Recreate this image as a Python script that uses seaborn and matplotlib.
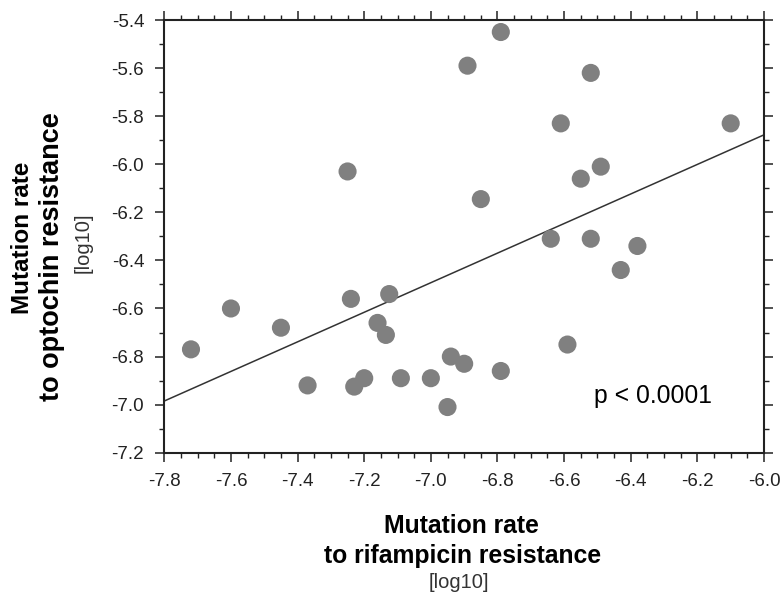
import matplotlib
matplotlib.use("Agg")
import matplotlib.pyplot as plt
from matplotlib.ticker import MultipleLocator, FormatStrFormatter
import seaborn as sns
import pandas as pd

# Data (log10 mutation rates)
rifampicin = [-7.72, -7.60, -7.45, -7.37, -7.25, -7.24, -7.125, -7.16, -7.135,
              -7.23, -7.20, -7.09, -7.00, -6.95, -6.94, -6.90, -6.89, -6.79,
              -6.52, -6.61, -6.10, -6.49, -6.55, -6.85, -6.64, -6.52, -6.38,
              -6.43, -6.59, -6.79]
optochin = [-6.77, -6.60, -6.68, -6.92, -6.03, -6.56, -6.54, -6.66, -6.71,
            -6.925, -6.89, -6.89, -6.89, -7.01, -6.80, -6.83, -5.59, -5.45,
            -5.62, -5.83, -5.83, -6.01, -6.06, -6.145, -6.31, -6.31, -6.34,
            -6.44, -6.75, -6.86]
x_ticks = [-7.8, -7.6, -7.4, -7.2, -7.0, -6.8, -6.6, -6.4, -6.2, -6.0]
y_ticks = [-7.2, -7.0, -6.8, -6.6, -6.4, -6.2, -6.0, -5.8, -5.6, -5.4]
annotation = "p < 0.0001"

df = pd.DataFrame({"rif": rifampicin, "opt": optochin})

sns.set_theme(style="ticks")
plt.rcParams["font.family"] = ["Liberation Sans", "DejaVu Sans"]
plt.rcParams["axes.unicode_minus"] = False

fig = plt.figure(figsize=(7.84, 5.99), dpi=100)
ax = fig.add_axes([0.2096, 0.2442, 0.7649, 0.7224])

ax.set_xlim(x_ticks[0], x_ticks[-1])
ax.set_ylim(y_ticks[0], y_ticks[-1])

sns.regplot(data=df, x="rif", y="opt", ax=ax, scatter=False, ci=None,
            truncate=False, line_kws=dict(color="#333333", lw=1.1))
sns.scatterplot(data=df, x="rif", y="opt", ax=ax, s=170, color="#808080",
                edgecolor="none", linewidth=0, zorder=3)

ax.set_xlim(x_ticks[0], x_ticks[-1])
ax.set_ylim(y_ticks[0], y_ticks[-1])
ax.set_xticks(x_ticks)
ax.set_yticks(y_ticks)
ax.xaxis.set_minor_locator(MultipleLocator(0.05))
ax.yaxis.set_minor_locator(MultipleLocator(0.1))
ax.xaxis.set_major_formatter(FormatStrFormatter("%.1f"))
ax.yaxis.set_major_formatter(FormatStrFormatter("%.1f"))
ax.set_xlabel("")
ax.set_ylabel("")

for sp in ax.spines.values():
    sp.set_visible(True)
    sp.set_color("#222222")
    sp.set_linewidth(1.5)

ax.tick_params(which="both", direction="out", top=True, right=True,
               labeltop=False, labelright=False, color="#222222")
ax.tick_params(which="major", length=6.5, width=1.1, labelsize=13.5,
               pad=8, labelcolor="#222222")
ax.tick_params(which="minor", length=3.5, width=1.0)

ax.text(-6.333, -6.964, annotation, ha="center", va="center", fontsize=17.8,
        color="black")

# Axis titles placed as in the reference
fig.text(461 / 784, 1 - 526 / 599, "Mutation rate", ha="center", va="center",
         fontsize=17.8, fontweight="bold", color="black")
fig.text(463 / 784, 1 - 556 / 599, "to rifampicin resistance", ha="center",
         va="center", fontsize=17.8, fontweight="bold", color="black")
fig.text(459 / 784, 1 - 583 / 599, "[log10]", ha="center", va="center",
         fontsize=14.5, color="#333333")

fig.text(23 / 784, 1 - 238 / 599, "Mutation rate", ha="center", va="center",
         rotation=90, fontsize=17.5, fontweight="bold", color="black")
fig.text(52 / 784, 1 - 257 / 599, "to optochin resistance", ha="center",
         va="center", rotation=90, fontsize=19.5, fontweight="bold",
         color="black")
fig.text(83 / 784, 1 - 243 / 599, "[log10]", ha="center", va="center",
         rotation=90, fontsize=14.5, color="#333333")

fig.savefig("out.png", dpi=100, facecolor="white")
